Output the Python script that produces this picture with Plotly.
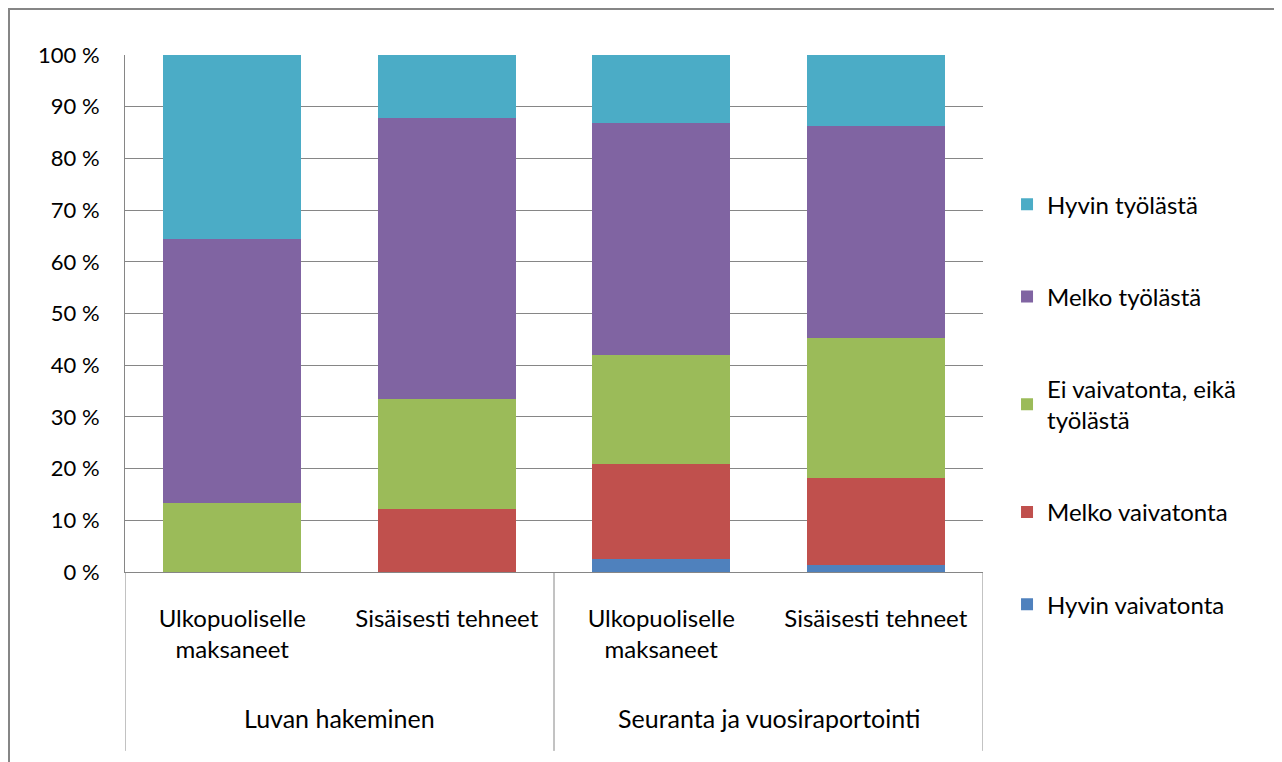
import plotly.graph_objects as go

group_labels = ["Luvan hakeminen", "Seuranta ja vuosiraportointi"]
categories = ["Luvan – Ulkopuoliselle", "Luvan – Sisäisesti",
              "Seuranta – Ulkopuoliselle", "Seuranta – Sisäisesti"]
sub_labels = ["Ulkopuoliselle<br>maksaneet", "Sisäisesti tehneet",
              "Ulkopuoliselle<br>maksaneet", "Sisäisesti tehneet"]

series_names = ["Hyvin vaivatonta", "Melko vaivatonta",
                "Ei vaivatonta, eikä<br>työlästä", "Melko työlästä", "Hyvin työlästä"]
hyvin_vaivatonta = [0.0, 0.0, 2.5, 1.3]
melko_vaivatonta = [0.0, 12.2, 18.4, 16.8]
ei_kumpikaan = [13.4, 21.2, 21.1, 27.2]
melko_tyolasta = [51.0, 54.4, 44.9, 41.0]
hyvin_tyolasta = [35.6, 12.2, 13.1, 13.7]
series_values = [hyvin_vaivatonta, melko_vaivatonta, ei_kumpikaan,
                 melko_tyolasta, hyvin_tyolasta]
colors = ["#4F81BD", "#C0504D", "#9BBB59", "#8064A2", "#4BACC6"]

y_ticks = [0, 10, 20, 30, 40, 50, 60, 70, 80, 90, 100]
y_tick_labels = [f"{v} %" for v in y_ticks]

FONT = "Lato, Carlito, 'Liberation Sans', sans-serif"
GRID = "#868686"

fig = go.Figure()
n = len(series_names)
for i, (name, vals, col) in enumerate(zip(series_names, series_values, colors)):
    fig.add_trace(go.Bar(
        x=categories, y=vals, name=name,
        marker=dict(color=col, line=dict(width=0)),
        legendgroup=name, legendrank=n - i,
    ))

annotations = []
for i, g in enumerate(group_labels):
    annotations.append(dict(
        x=2 * i + 0.5, xref="x", y=-0.282, yref="paper",
        text=g, showarrow=False, xanchor="center", yanchor="middle",
        font=dict(family=FONT, size=25, color="#000000"),
    ))

shapes = []
for xb in [-0.5, 1.5, 3.5]:
    shapes.append(dict(type="line", xref="x", yref="paper",
                       x0=xb, x1=xb, y0=0, y1=-0.346,
                       line=dict(color=GRID, width=1)))
shapes.append(dict(type="rect", xref="paper", yref="paper",
                   x0=-0.1352, x1=1.3462, y0=-0.4, y1=1.089,
                   line=dict(color=GRID, width=2), fillcolor="rgba(0,0,0,0)",
                   layer="below"))

fig.update_layout(
    width=1274, height=754,
    margin=dict(l=117, r=299, t=47, b=190),
    barmode="stack", bargap=0.357,
    paper_bgcolor="white", plot_bgcolor="white",
    font=dict(family=FONT, size=24, color="#000000"),
    showlegend=True,
    legend=dict(
        x=1.028, xanchor="left", y=0.754, yanchor="top",
        traceorder="grouped", tracegroupgap=58,
        font=dict(family=FONT, size=24, color="#000000"),
        itemwidth=30, bgcolor="rgba(0,0,0,0)",
    ),
    yaxis=dict(
        range=[0, 100], tickvals=y_ticks, ticktext=y_tick_labels,
        showgrid=True, gridcolor=GRID, gridwidth=1,
        showline=True, linecolor=GRID, linewidth=1,
        ticks="", zeroline=False, ticklabelstandoff=20,
        tickfont=dict(family=FONT, size=22, color="#000000"),
    ),
    xaxis=dict(
        type="category", range=[-0.5, 3.5],
        tickvals=categories, ticktext=sub_labels,
        showline=True, linecolor=GRID, linewidth=1,
        showgrid=False, ticks="", ticklabelstandoff=25,
        tickfont=dict(family=FONT, size=24, color="#000000"),
    ),
    annotations=annotations,
    shapes=shapes,
)

fig.write_html("out.html")
